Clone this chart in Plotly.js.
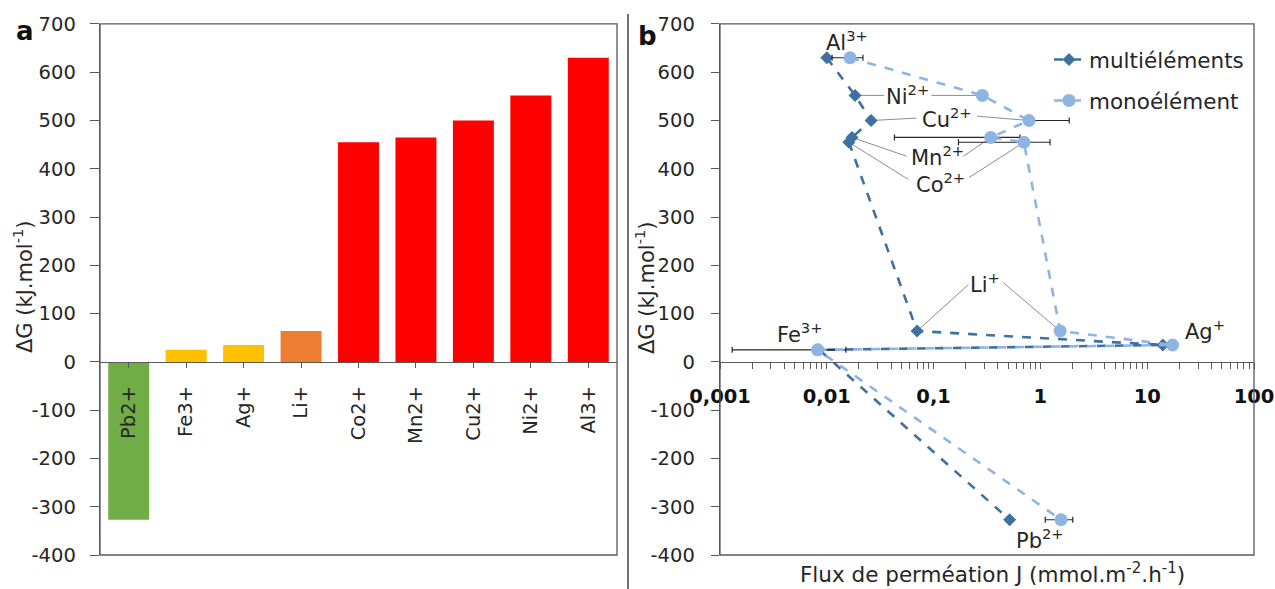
<!DOCTYPE html>
<html>
<head>
<meta charset="utf-8">
<script src="https://cdn.plot.ly/plotly-3.0.1.min.js"></script>
<style>html,body{margin:0;padding:0;background:#fff;}#chart{width:1275px;height:589px;}</style>
</head>
<body>
<div id="chart"></div>
<script>
// ---------- Panel a data ----------
const catsA = ['Pb2+', 'Fe3+', 'Ag+', 'Li+', 'Co2+', 'Mn2+', 'Cu2+', 'Ni2+', 'Al3+'];
const dGA = [-327, 25, 35, 64, 455, 465, 500, 552, 630];
const colorsA = ['#70AD47', '#FFC000', '#FFC000', '#ED7D31', '#FF0000', '#FF0000', '#FF0000', '#FF0000', '#FF0000'];

// ---------- Panel b data ----------
const ionsB = ['Al3+', 'Ni2+', 'Cu2+', 'Mn2+', 'Co2+', 'Li+', 'Ag+', 'Fe3+', 'Pb2+'];
const dGB = [630, 552, 500, 465, 455, 64, 35, 25, -327];
const fluxMulti = [0.0100, 0.0184, 0.026, 0.0172, 0.0161, 0.070, 14.0, 0.0085, 0.515];
const fluxMono = [0.0165, 0.286, 0.782, 0.343, 0.701, 1.53, 17.3, 0.0082, 1.56];
const errMonoPlus = [0.0053, null, 1.08, 0.30, 0.53, null, null, 0.0069, 0.45];
const errMonoMinus = [0.0053, null, 0, 0.30, 0.53, null, null, 0.0069, 0.45];
const seriesNames = ['multiéléments', 'monoélément'];
const xTickVals = [0.001, 0.01, 0.1, 1, 10, 100];
const xTickText = ['0,001', '0,01', '0,1', '1', '10', '100'];
const yTickVals = [-400, -300, -200, -100, 0, 100, 200, 300, 400, 500, 600, 700];
const yTickText = ['-400', '-300', '-200', '-100', '0', '100', '200', '300', '400', '500', '600', '700'];

// ---------- label placement (layout) ----------
const labelText = {
  'Al3+': 'Al<sup>3+</sup>', 'Ni2+': 'Ni<sup>2+</sup>', 'Cu2+': 'Cu<sup>2+</sup>',
  'Mn2+': 'Mn<sup>2+</sup>', 'Co2+': 'Co<sup>2+</sup>', 'Li+': 'Li<sup>+</sup>',
  'Ag+': 'Ag<sup>+</sup>', 'Fe3+': 'Fe<sup>3+</sup>', 'Pb2+': 'Pb<sup>2+</sup>'
};
const labelPos = {
  'Al3+': [0.0155, 665], 'Ni2+': [0.0564, 552], 'Cu2+': [0.133, 505],
  'Mn2+': [0.1076, 426], 'Co2+': [0.115, 370], 'Li+': [0.303, 164],
  'Ag+': [34.7, 66], 'Fe3+': [0.00564, 60], 'Pb2+': [0.99, -366]
};
// leader line attach points near the labels: [multi, mono]
const leaderAttach = {
  'Ni2+': [[0.0345, 552], [0.0955, 552]],
  'Cu2+': [[0.0690, 505], [0.255, 509]],
  'Mn2+': [[0.0560, 426], [0.190, 426]],
  'Co2+': [[0.058, 378], [0.215, 382]],
  'Li+':  [[0.212, 160], [0.45, 164]]
};

const FONT = 'DejaVu Sans';
const TXT = '#262626';
const AX = '#595959';
const dom = [0.0577, 0.9593];
const zeroPos = dom[0] + (0 - (-400)) / 1100 * (dom[1] - dom[0]);

const traces = [];
// panel a bars
traces.push({
  type: 'bar', x: catsA, y: dGA, marker: {color: colorsA},
  xaxis: 'x', yaxis: 'y', showlegend: false, hoverinfo: 'x+y'
});

// leader lines
const lx = [], ly = [];
Object.keys(leaderAttach).forEach(k => {
  const i = ionsB.indexOf(k);
  const [a, b] = leaderAttach[k];
  lx.push(fluxMulti[i], a[0], null, b[0], fluxMono[i], null);
  ly.push(dGB[i], a[1], null, b[1], dGB[i], null);
});
traces.push({
  type: 'scatter', mode: 'lines', x: lx, y: ly, xaxis: 'x2', yaxis: 'y2',
  line: {color: '#8c8c8c', width: 1}, showlegend: false, hoverinfo: 'skip', connectgaps: false
});

traces.push({
  type: 'scatter', mode: 'lines+markers', name: seriesNames[0],
  x: fluxMulti, y: dGB, xaxis: 'x2', yaxis: 'y2', legendgroup: 'g1',
  line: {color: '#3E70A1', width: 2.6, dash: 'dash'},
  marker: {symbol: 'diamond', size: 10, color: '#3E70A1'}
});
traces.push({
  type: 'scatter', mode: 'lines+markers', name: seriesNames[1],
  x: fluxMono, y: dGB, xaxis: 'x2', yaxis: 'y2', legendgroup: 'g2',
  line: {color: '#8DB4E2', width: 2.6, dash: 'dash'},
  marker: {symbol: 'circle', size: 13, color: '#8DB4E2'},
  error_x: {type: 'data', symmetric: false, array: errMonoPlus, arrayminus: errMonoMinus,
            color: '#262626', thickness: 1.2, width: 3}
});

// minor ticks positions for the log axis
const minorVals = [];
for (let d = -3; d < 2; d++) for (let k = 2; k <= 9; k++) minorVals.push(k * Math.pow(10, d));

const LBL = 21;
const annotations = [];
ionsB.forEach(k => {
  const p = labelPos[k];
  annotations.push({
    xref: 'x2', yref: 'y2', x: Math.log10(p[0]), y: p[1], text: labelText[k],
    showarrow: false, font: {family: FONT, size: LBL, color: TXT}, xanchor: 'center', yanchor: 'middle'
  });
});
annotations.push(
  {xref: 'paper', yref: 'paper', x: 23 / 1275, y: 1 - 287 / 589, text: 'ΔG (kJ.mol<sup>-1</sup>)', textangle: -90,
   showarrow: false, font: {family: FONT, size: 21, color: TXT}, xanchor: 'center', yanchor: 'middle'},
  {xref: 'paper', yref: 'paper', x: 645 / 1275, y: 1 - 288 / 589, text: 'ΔG (kJ.mol<sup>-1</sup>)', textangle: -90,
   showarrow: false, font: {family: FONT, size: 21, color: TXT}, xanchor: 'center', yanchor: 'middle'},
  {xref: 'paper', yref: 'paper', x: 992 / 1275, y: 1 - 573 / 589, text: 'Flux de perméation J (mmol.m<sup>-2</sup>.h<sup>-1</sup>)',
   showarrow: false, font: {family: FONT, size: 21.5, color: TXT}, xanchor: 'center', yanchor: 'middle'},
  {xref: 'paper', yref: 'paper', x: 25 / 1275, y: 1 - 31 / 589, text: '<b>a</b>',
   showarrow: false, font: {family: FONT, size: 26, color: '#111'}, xanchor: 'center', yanchor: 'middle'},
  {xref: 'paper', yref: 'paper', x: 648 / 1275, y: 1 - 36 / 589, text: '<b>b</b>',
   showarrow: false, font: {family: FONT, size: 26, color: '#111'}, xanchor: 'center', yanchor: 'middle'}
);

const TICKF = 19.5;
const layout = {
  width: 1275, height: 589,
  margin: {l: 0, r: 0, t: 0, b: 0},
  paper_bgcolor: '#fff', plot_bgcolor: '#fff',
  font: {family: FONT, color: TXT},
  bargap: 0.287,
  showlegend: true,
  legend: {x: 1049 / 1275, y: 1 - 39 / 589, xanchor: 'left', yanchor: 'top', bgcolor: 'rgba(0,0,0,0)',
           font: {family: FONT, size: 21.5, color: TXT}, tracegroupgap: 10, traceorder: 'grouped'},
  xaxis: {
    domain: [100 / 1275, 617 / 1275], anchor: 'free', position: zeroPos, type: 'category',
    showline: true, linecolor: AX, linewidth: 1.3, ticks: 'outside', ticklen: 5, tickcolor: AX,
    tickangle: -90, tickfont: {family: FONT, size: TICKF, color: TXT}, ticklabelstandoff: 10,
    showgrid: false, zeroline: false, range: [-0.5, 8.5]
  },
  yaxis: {
    domain: dom, anchor: 'x', range: [-400, 700], tickmode: 'array', tickvals: yTickVals, ticktext: yTickText,
    showline: true, linecolor: AX, linewidth: 1.3, ticks: 'outside', ticklen: 9, tickcolor: AX,
    tickfont: {family: FONT, size: TICKF, color: TXT}, ticklabelstandoff: 10,
    showgrid: false, zeroline: false
  },
  xaxis2: {
    domain: [720 / 1275, 1254 / 1275], anchor: 'free', position: zeroPos, type: 'log', range: [-3, 2],
    showline: true, linecolor: AX, linewidth: 1.3, ticks: 'outside', ticklen: 6, tickcolor: AX,
    tickmode: 'array', tickvals: xTickVals, ticktext: xTickText,
    tickfont: {family: FONT, size: TICKF, color: '#111', weight: 'bold'}, ticklabelstandoff: 10,
    minor: {tickmode: 'array', tickvals: minorVals, ticks: 'outside', ticklen: 6, tickcolor: AX, showgrid: false},
    showgrid: false, zeroline: false
  },
  yaxis2: {
    domain: dom, anchor: 'x2', range: [-400, 700], tickmode: 'array', tickvals: yTickVals, ticktext: yTickText,
    showline: true, linecolor: AX, linewidth: 1.3, ticks: 'outside', ticklen: 8, tickcolor: AX,
    tickfont: {family: FONT, size: TICKF, color: TXT}, ticklabelstandoff: 12,
    showgrid: false, zeroline: false
  },
  shapes: [
    {type: 'rect', xref: 'x domain', yref: 'y domain', x0: 0, x1: 1, y0: 0, y1: 1,
     line: {color: AX, width: 1.3}, fillcolor: 'rgba(0,0,0,0)', layer: 'above'},
    {type: 'rect', xref: 'x2 domain', yref: 'y2 domain', x0: 0, x1: 1, y0: 0, y1: 1,
     line: {color: AX, width: 1.3}, fillcolor: 'rgba(0,0,0,0)', layer: 'above'},
    {type: 'line', xref: 'paper', yref: 'paper', x0: 628 / 1275, x1: 628 / 1275, y0: 0, y1: 1 - 14 / 589,
     line: {color: '#404040', width: 1.5}}
  ],
  annotations: annotations
};

Plotly.newPlot('chart', traces, layout, {displayModeBar: false, staticPlot: true});
</script>
</body>
</html>
